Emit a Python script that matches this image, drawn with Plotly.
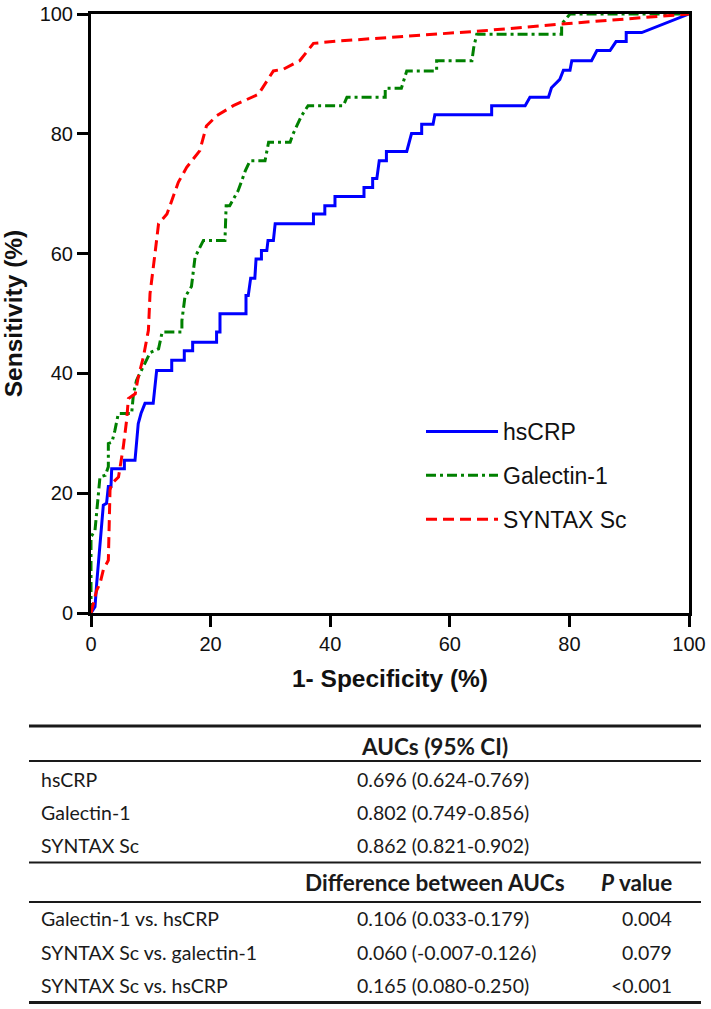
import plotly.graph_objects as go

# ---------------- ROC curve data (1-specificity %, sensitivity %) ----------------
hscrp_x = [0, 0.67, 0.95, 1.2, 1.5, 2.06, 2.6, 2.9, 3.34, 3.46, 5.58, 5.58, 7.36, 7.64, 7.9, 8.36, 9.03, 10.4,
           10.7, 10.98, 13.5, 13.5, 15.6, 15.6, 17.0, 17.0, 21.0, 21.0, 21.57, 21.57, 25.92, 25.92, 26.3, 26.7,
           27.4, 27.6, 28.5, 28.5, 29.4, 29.6, 30.5, 30.8, 37.2, 37.2, 39.1, 39.1, 40.8, 40.8, 45.65, 45.65,
           47.1, 47.1, 47.8, 48.2, 49.4, 49.4, 52.8, 53.6, 55.3, 55.3, 57.2, 57.5, 67.0, 67.0, 72.6, 73.4,
           76.5, 77.0, 78.4, 79.0, 80.1, 80.4, 83.7, 84.6, 86.8, 87.8, 89.5, 89.5, 92.1, 100]
hscrp_y = [0, 1.05, 4.9, 8.2, 11.6, 18.0, 18.3, 21.1, 21.1, 24.1, 24.1, 25.5, 25.5, 28.8, 31.6, 33.3, 35.0, 35.0,
           37.7, 40.5, 40.5, 42.2, 42.2, 43.8, 43.8, 45.2, 45.2, 46.9, 46.9, 49.95, 49.95, 53.0, 53.0, 55.9,
           55.9, 59.1, 59.1, 60.5, 60.5, 62.2, 62.2, 65.0, 65.0, 66.6, 66.6, 68.0, 68.0, 69.55, 69.55, 71.05,
           71.05, 72.55, 72.55, 75.5, 75.5, 77.05, 77.05, 80.05, 80.05, 81.6, 81.6, 83.2, 83.2, 84.7, 84.7, 86.1,
           86.1, 87.7, 89.1, 90.6, 90.6, 92.2, 92.2, 93.9, 93.9, 95.4, 95.4, 96.9, 96.9, 100]

galectin_x = [0, 0, 0.67, 1.0, 1.2, 1.5, 2.4, 2.9, 2.9, 3.5, 4.0, 4.57, 6.8, 7.1, 7.6, 9.2, 9.9, 11.3, 11.9, 15.2,
              15.2, 15.7, 16.8, 17.4, 18.8, 22.4, 22.6, 23.2, 24.6, 25.8, 26.6, 29.1, 29.7, 33.3, 33.8, 35.2,
              36.3, 42.2, 42.8, 49.2, 49.2, 51.9, 52.4, 52.8, 57.8, 57.8, 63.7, 64.0, 64.5, 78.7, 78.7, 80.1, 100]
galectin_y = [0, 12.7, 13.8, 17.0, 19.9, 22.7, 23.0, 24.4, 28.3, 28.5, 30.5, 33.3, 33.3, 36.6, 38.8, 41.9, 43.5,
              44.1, 46.9, 46.9, 48.8, 52.7, 54.5, 59.4, 62.2, 62.2, 68.0, 68.0, 70.5, 73.8, 75.5, 75.5, 78.6,
              78.6, 80.0, 83.0, 84.7, 84.7, 86.1, 86.1, 87.6, 87.6, 89.1, 90.5, 90.5, 92.2, 92.2, 94.4, 96.6,
              96.6, 98.3, 100, 100]

syntax_x = [0, 0.95, 1.5, 2.06, 2.9, 3.18, 3.46, 4.6, 5.4, 5.96, 6.25, 7.4, 7.9, 8.75, 9.6, 9.87, 10.7, 11.3,
            12.7, 14.6, 16.0, 18.2, 19.3, 21.0, 23.8, 26.9, 28.0, 30.5, 32.2, 34.9, 37.2, 41.6, 65.6, 78.4, 100]
syntax_y = [0, 3.8, 4.9, 7.2, 8.8, 20.5, 21.6, 22.7, 27.7, 32.2, 35.8, 36.6, 39.4, 42.7, 47.2, 53.3, 60.0, 65.0,
            66.6, 71.9, 74.4, 77.2, 81.3, 83.0, 84.7, 86.1, 86.6, 90.5, 90.8, 92.2, 95.1, 95.5, 97.2, 98.3, 100]

series_names = ["hsCRP", "Galectin-1", "SYNTAX Sc"]
axis_ticks = [0, 20, 40, 60, 80, 100]

# ---------------- Table data ----------------
auc_header = "AUCs (95% CI)"
auc_rows = ["hsCRP", "Galectin-1", "SYNTAX Sc"]
auc_values = ["0.696 (0.624-0.769)", "0.802 (0.749-0.856)", "0.862 (0.821-0.902)"]
diff_header = "Difference between AUCs"
p_header = "P value"
diff_rows = ["Galectin-1 vs. hsCRP", "SYNTAX Sc vs. galectin-1", "SYNTAX Sc vs. hsCRP"]
diff_values = ["0.106 (0.033-0.179)", "0.060 (-0.007-0.126)", "0.165 (0.080-0.250)"]
p_values = ["0.004", "0.079", "<0.001"]

# ---------------- Layout geometry (pixels) ----------------
W, H = 711, 1009
PL, PR, PT, PB = 91, 689, 14, 613


def px2x(px):
    return (px - PL) / (PR - PL)


def py2y(py):
    return (PB - py) / (PB - PT)


def esc(s):
    return s.replace("<", "&lt;").replace(">", "&gt;")


AX_FONT = "Liberation Sans, Arial, sans-serif"
TB_FONT = "Lato, Carlito, Calibri, sans-serif"

fig = go.Figure()
fig.add_trace(go.Scatter(x=hscrp_x, y=hscrp_y, mode="lines", name=series_names[0], legendgroup="a",
                         line=dict(color="#0000ff", width=3, dash="solid")))
fig.add_trace(go.Scatter(x=galectin_x, y=galectin_y, mode="lines", name=series_names[1], legendgroup="b",
                         line=dict(color="#008000", width=3, dash="10px,4px,3px,4px")))
fig.add_trace(go.Scatter(x=syntax_x, y=syntax_y, mode="lines", name=series_names[2], legendgroup="c",
                         line=dict(color="#ff0000", width=3, dash="11px,6px")))

axis_common = dict(
    range=[0, 100], tickvals=axis_ticks, ticks="outside", ticklen=11, tickwidth=3, tickcolor="black",
    showline=True, linewidth=3, linecolor="black", mirror=True, showgrid=False, zeroline=False,
    automargin=False,
    tickfont=dict(family=AX_FONT, size=20, color="#111"),
)

fig.update_layout(
    width=W, height=H,
    margin=dict(l=PL, r=W - PR, t=PT, b=H - PB, pad=0, autoexpand=False),
    paper_bgcolor="white", plot_bgcolor="white",
    xaxis=dict(**axis_common,
               title=dict(text="<b>1- Specificity (%)</b>", standoff=16,
                          font=dict(family=AX_FONT, size=24.5, color="#111"))),
    yaxis=dict(**axis_common,
               title=dict(text="<b>Sensitivity (%)</b>", standoff=14,
                          font=dict(family=AX_FONT, size=24.5, color="#111"))),
    legend=dict(x=px2x(421), y=py2y(410), xanchor="left", yanchor="top",
                bgcolor="rgba(0,0,0,0)", borderwidth=0, itemwidth=72,
                traceorder="grouped", tracegroupgap=11,
                font=dict(family=AX_FONT, size=23, color="#111")),
    showlegend=True,
)

# ---------------- Table: rules ----------------
TX0, TX1 = 29, 701
rules = [(726, 3), (761, 2), (862.5, 2), (902, 2), (1002.5, 3)]
for ry, rw in rules:
    fig.add_shape(type="line", xref="paper", yref="paper",
                  x0=px2x(TX0), x1=px2x(TX1), y0=py2y(ry), y1=py2y(ry),
                  line=dict(color="#1a1a1a", width=rw))

# ---------------- Table: text ----------------
LBL_X, VAL_X, HDR_X, PHDR_X, P_X = 39, 355, 435, 636, 674
TFS, HFS = 19.5, 22.5


def add_text(txt, px, py, anchor, bold=False):
    fig.add_annotation(xref="paper", yref="paper", x=px2x(px), y=py2y(py),
                       text=("<b>%s</b>" % txt) if bold else txt, showarrow=False,
                       xanchor=anchor, yanchor="middle",
                       font=dict(family=TB_FONT, size=HFS if bold else TFS, color="#1a1a1a"))


add_text(esc(auc_header), HDR_X, 746, "center", bold=True)
auc_row_y = [779, 812, 845]
for name, val, ry in zip(auc_rows, auc_values, auc_row_y):
    add_text(esc(name), LBL_X, ry, "left")
    add_text(esc(val), VAL_X, ry, "left")

add_text(esc(diff_header), HDR_X, 882, "center", bold=True)
p_parts = p_header.split(" ", 1)
add_text("<i>%s</i> %s" % (p_parts[0], p_parts[1]), PHDR_X, 882, "center", bold=True)
diff_row_y = [918, 952, 985]
for name, val, pv, ry in zip(diff_rows, diff_values, p_values, diff_row_y):
    add_text(esc(name), LBL_X, ry, "left")
    add_text(esc(val), VAL_X, ry, "left")
    add_text(esc(pv), P_X, ry, "right")

fig.write_html("out.html", config={"displayModeBar": False},
               post_script="document.body.style.margin='0';document.body.style.padding='0';")
